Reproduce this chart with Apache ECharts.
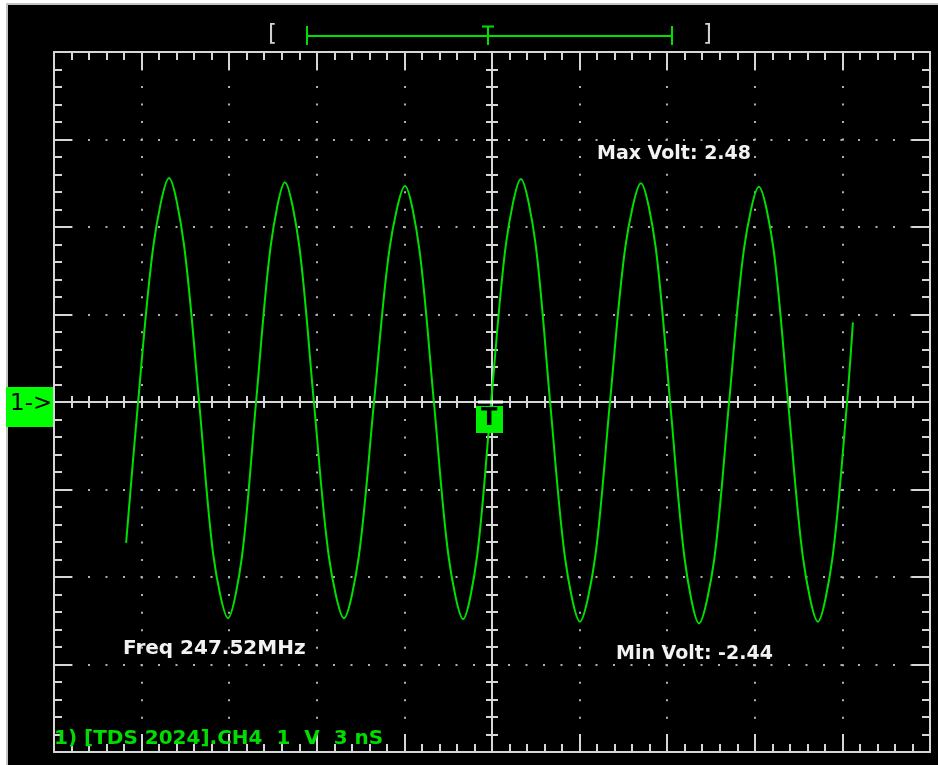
<!DOCTYPE html>
<html>
<head>
<meta charset="utf-8">
<script src="https://cdn.jsdelivr.net/npm/echarts@6/dist/echarts.min.js"></script>
<style>
html,body{margin:0;padding:0;background:#fff;}
#chart{width:938px;height:765px;}
</style>
</head>
<body>
<div id="chart"></div>
<script>
// Trace: time (ns) and voltage (V)
const timeNs = [-12.53, -12.12, -11.59, -11.06, -10.55, -10.03, -9.54, -9.04, -8.56, -8.08,
  -7.58, -7.09, -6.60, -6.10, -5.59, -5.07, -4.56, -4.04, -3.51, -2.98,
  -2.49, -1.99, -1.49, -0.99, -0.51, -0.03, 0.48, 0.99, 1.49, 1.99,
  2.50, 3.01, 3.53, 4.04, 4.57, 5.10, 5.60, 6.10, 6.60, 7.09,
  7.61, 8.12, 8.63, 9.14, 9.64, 10.14, 10.65, 11.16, 11.66, 12.16, 12.36];
const volts = [-1.61, 0, 1.80, 2.56, 1.80, 0, -1.76, -2.47, -1.76, 0,
  1.78, 2.51, 1.78, 0, -1.76, -2.47, -1.76, 0, 1.75, 2.47,
  1.75, 0, -1.76, -2.48, -1.76, 0, 1.81, 2.55, 1.81, 0,
  -1.78, -2.51, -1.78, 0, 1.78, 2.50, 1.78, 0, -1.80, -2.53,
  -1.80, 0, 1.75, 2.46, 1.75, 0, -1.78, -2.51, -1.78, 0, 0.91];
// Screen scale: 3 ns/div, 1 V/div
const timeRange = [-15, 15];
const timeDiv = 3;
const voltRange = [-4, 4];
const voltDiv = 1;
// Texts
const maxVoltText = 'Max Volt: 2.48';
const minVoltText = 'Min Volt: -2.44';
const freqText = 'Freq 247.52MHz';
const infoText = '1) [TDS 2024].CH4  1  V  3 nS';
const chLabel = '1->';
const trigLabel = 'T';

const chart = echarts.init(document.getElementById('chart'), null, {renderer: 'canvas'});
const gridCol = '#d6d6d6';
const dotCol = '#b0b0b0';
const green = '#00e000';
const font = '"DejaVu Sans", sans-serif';

function borderAxis(dim, pos, withSplit) {
  const isX = dim === 'x';
  const range = isX ? timeRange : voltRange;
  const step = isX ? timeDiv : voltDiv;
  const minorSpacing = isX ? 876 / 50 : 700 / 40;
  return {
    type: 'value', position: pos, min: range[0], max: range[1], interval: step,
    axisLine: {show: true, onZero: false, lineStyle: {color: gridCol, width: 2}},
    axisTick: {show: true, inside: true, length: 18, lineStyle: {color: gridCol, width: 2}},
    minorTick: {show: true, splitNumber: 5, length: 8, lineStyle: {color: gridCol, width: 2}},
    axisLabel: {show: false},
    splitLine: {show: !!withSplit, lineStyle: {color: dotCol, width: 2, type: [2, minorSpacing - 2], dashOffset: 1}},
    minorSplitLine: {show: false}
  };
}
function centerAxis(dim, pos, inside) {
  const isX = dim === 'x';
  const range = isX ? timeRange : voltRange;
  const step = isX ? timeDiv : voltDiv;
  return {
    type: 'value', position: pos, min: range[0], max: range[1], interval: step,
    axisLine: {show: true, onZero: true, lineStyle: {color: gridCol, width: 2}},
    axisTick: {show: true, inside: inside, length: 6, lineStyle: {color: gridCol, width: 2}},
    minorTick: {show: true, splitNumber: 5, length: 6, lineStyle: {color: gridCol, width: 2}},
    axisLabel: {show: false},
    splitLine: {show: false}
  };
}

const option = {
  backgroundColor: '#ffffff',
  animation: false,
  grid: {left: 54, top: 52, width: 876, height: 700, show: false},
  xAxis: [
    borderAxis('x', 'bottom', true),
    borderAxis('x', 'top', false),
    centerAxis('x', 'bottom', true),
    centerAxis('x', 'bottom', false)
  ],
  yAxis: [
    borderAxis('y', 'left', true),
    borderAxis('y', 'right', false),
    centerAxis('y', 'left', true),
    centerAxis('y', 'left', false)
  ],
  graphic: [
    {type: 'rect', z: -10, shape: {x: 7, y: 4, width: 940, height: 770}, style: {fill: '#000', stroke: '#c4c4c4', lineWidth: 2}},
    // top record-window marker
    {type: 'text', left: 268, top: 24, style: {text: '[', fill: '#d0d0d0', font: '23px ' + font}},
    {type: 'text', left: 703, top: 24, style: {text: ']', fill: '#d0d0d0', font: '23px ' + font}},
    {type: 'line', shape: {x1: 307, y1: 36, x2: 672, y2: 36}, style: {stroke: green, lineWidth: 2}},
    {type: 'line', shape: {x1: 307, y1: 26, x2: 307, y2: 45}, style: {stroke: green, lineWidth: 2}},
    {type: 'line', shape: {x1: 672, y1: 26, x2: 672, y2: 45}, style: {stroke: green, lineWidth: 2}},
    {type: 'line', shape: {x1: 482, y1: 26.5, x2: 494, y2: 26.5}, style: {stroke: green, lineWidth: 2}},
    {type: 'line', shape: {x1: 488, y1: 26, x2: 488, y2: 45}, style: {stroke: green, lineWidth: 2}},
    // channel label
    {type: 'rect', shape: {x: 6, y: 387, width: 47, height: 40}, style: {fill: '#00ff00'}},
    {type: 'text', left: 10, top: 393, style: {text: chLabel, fill: '#000', font: '23px ' + font}},
    // trigger label
    {type: 'rect', z: 50, shape: {x: 476, y: 406, width: 27, height: 27}, style: {fill: '#00ee00'}},
    {type: 'rect', z: 50, shape: {x: 478, y: 400.5, width: 25, height: 3}, style: {fill: '#ffffff'}},
    {type: 'text', z: 51, left: 481, top: 407, style: {text: trigLabel, fill: '#000', font: 'bold 24px ' + font}},
    // measurements
    {type: 'text', z: 60, left: 597, top: 145, style: {text: maxVoltText, fill: '#f2f2f2', font: 'bold 19px ' + font}},
    {type: 'text', z: 60, left: 123, top: 639, style: {text: freqText, fill: '#f2f2f2', font: 'bold 20px ' + font}},
    {type: 'text', z: 60, left: 616, top: 645, style: {text: minVoltText, fill: '#f2f2f2', font: 'bold 19px ' + font}},
    {type: 'text', z: 60, left: 54, top: 729, style: {text: infoText, fill: '#00dd00', font: 'bold 20px ' + font}}
  ],
  series: [{
    type: 'line',
    xAxisIndex: 0, yAxisIndex: 0,
    data: timeNs.map((t, i) => [t, volts[i]]),
    showSymbol: false,
    smooth: 0.3,
    lineStyle: {color: green, width: 2},
    z: 10
  }]
};
chart.setOption(option);
</script>
</body>
</html>
